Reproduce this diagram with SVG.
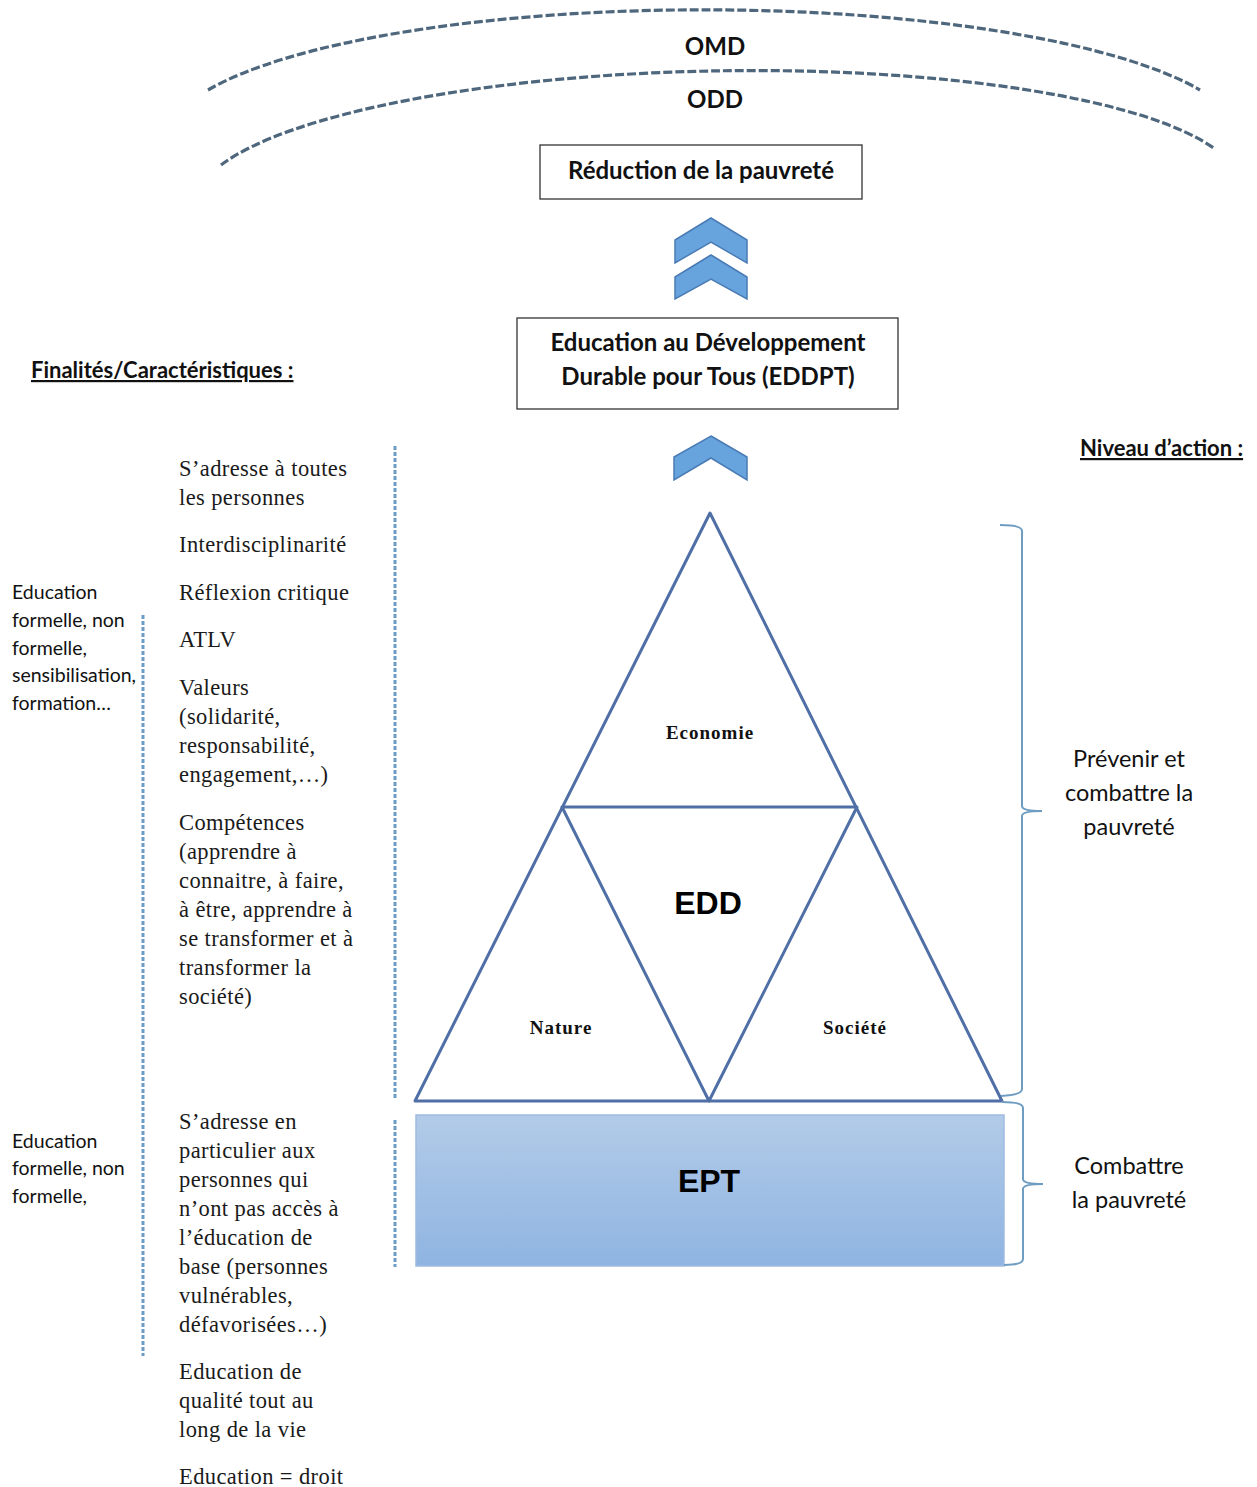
<svg xmlns="http://www.w3.org/2000/svg" width="1257" height="1487" viewBox="0 0 1257 1487">
<defs>
<style>
.cal{font-family:Lato,"Liberation Sans",sans-serif;fill:#111}
.calb{font-family:Lato,"Liberation Sans",sans-serif;font-weight:bold;fill:#111}
.ser{font-family:"Liberation Serif",serif;font-size:22.5px;letter-spacing:0.4px;fill:#1a1a1a}
.serb{font-family:"Liberation Serif",serif;font-weight:bold;font-size:19px;fill:#111;letter-spacing:1px}
.big{font-family:"Liberation Sans",sans-serif;font-weight:bold;font-size:32px;fill:#000}
.box{fill:#fff;stroke:#333;stroke-width:1.3}
.arc{fill:none;stroke:#4e677d;stroke-width:3.2;stroke-dasharray:9 3}
.vdash{fill:none;stroke:#6b9cc6;stroke-width:3;stroke-dasharray:4 2}
.tri{fill:none;stroke:#4f6fa6;stroke-width:3;stroke-linejoin:round}
.brace{fill:none;stroke:#6f9dc2;stroke-width:2}
.chev{fill:#67a4de;stroke:#4a7bb4;stroke-width:1.5}
</style>
<linearGradient id="eptg" x1="0" y1="0" x2="0" y2="1">
<stop offset="0" stop-color="#b2cbe8"/>
<stop offset="1" stop-color="#8fb4e1"/>
</linearGradient>
</defs>
<rect width="1257" height="1487" fill="#fff"/>

<g id="goals">
<path class="arc" d="M208,90 A537,130 0 0 1 1200,90"/>
<path class="arc" d="M221,165 A522,124 -1 0 1 1215,149"/>
<text class="calb" x="715" y="55" font-size="24" text-anchor="middle">OMD</text>
<text class="calb" x="715" y="108" font-size="24" text-anchor="middle">ODD</text>
</g>

<g id="reduction">
<rect class="box" x="540" y="145" width="322" height="54"/>
<text class="calb" x="701" y="179" font-size="24" text-anchor="middle">Réduction de la pauvreté</text>
</g>

<g id="eddpt">
<rect class="box" x="517" y="318" width="381" height="91"/>
<text class="calb" x="708" y="351" font-size="24" text-anchor="middle">Education au Développement</text>
<text class="calb" x="708" y="385" font-size="24" text-anchor="middle">Durable pour Tous (EDDPT)</text>
</g>

<g id="heading-finalites">
<text class="calb" x="31" y="378" font-size="22" text-decoration="underline">Finalités/Caractéristiques :</text>
</g>
<g id="heading-niveau">
<text class="calb" x="1080" y="456" font-size="22" text-decoration="underline">Niveau d’action :</text>
</g>

<g id="connectors">
<polygon class="chev" points="711,218 747,240 747,263 711,242 675,263 675,240"/>
<polygon class="chev" points="711,255 747,277 747,299 711,279 675,299 675,277"/>
<polygon class="chev" points="711,436 747,457 747,480 711,458 674,480 674,457"/>
</g>

<g id="edd-triangle">
<polygon class="tri" points="710,513 1002,1101 415,1101"/>
<polygon class="tri" points="562,807 857,807 709,1101"/>
<text class="serb" x="710" y="739" text-anchor="middle">Economie</text>
<text class="big" x="708" y="914" text-anchor="middle">EDD</text>
<text class="serb" x="561" y="1034" text-anchor="middle">Nature</text>
<text class="serb" x="855" y="1034" text-anchor="middle">Société</text>
</g>

<g id="ept">
<rect x="416" y="1115" width="588" height="151" fill="url(#eptg)" stroke="#9fbbe0" stroke-width="1.5"/>
<text class="big" x="709" y="1192" text-anchor="middle">EPT</text>
</g>

<g id="brace-edd">
<path class="brace" d="M1000,525 Q1022,525 1022,531 L1022,806 Q1022,811 1042,811 Q1022,811 1022,816 L1022,1089 Q1022,1095 1001,1096"/>
<text class="cal" x="1129" y="767" font-size="23.5" text-anchor="middle">Prévenir et</text>
<text class="cal" x="1129" y="801" font-size="23.5" text-anchor="middle">combattre la</text>
<text class="cal" x="1129" y="835" font-size="23.5" text-anchor="middle">pauvreté</text>
</g>

<g id="brace-ept">
<path class="brace" d="M1002,1102 Q1023,1102 1023,1108 L1023,1179 Q1023,1184 1043,1184 Q1023,1184 1023,1189 L1023,1259 Q1023,1265 1004,1265"/>
<text class="cal" x="1129" y="1174" font-size="23.5" text-anchor="middle">Combattre</text>
<text class="cal" x="1129" y="1208" font-size="23.5" text-anchor="middle">la pauvreté</text>
</g>

<g id="separators">
<line class="vdash" x1="395" y1="446" x2="395" y2="1099"/>
<line class="vdash" x1="395" y1="1120" x2="395" y2="1267"/>
<line class="vdash" x1="143" y1="615" x2="143" y2="1356"/>
</g>

<g id="edd-characteristics">
<text class="ser" x="179" y="476">S’adresse à toutes</text>
<text class="ser" x="179" y="505">les personnes</text>
<text class="ser" x="179" y="552">Interdisciplinarité</text>
<text class="ser" x="179" y="600">Réflexion critique</text>
<text class="ser" x="179" y="647">ATLV</text>
<text class="ser" x="179" y="695">Valeurs</text>
<text class="ser" x="179" y="724">(solidarité,</text>
<text class="ser" x="179" y="753">responsabilité,</text>
<text class="ser" x="179" y="782">engagement,…)</text>
<text class="ser" x="179" y="830">Compétences</text>
<text class="ser" x="179" y="859">(apprendre à</text>
<text class="ser" x="179" y="888">connaitre, à faire,</text>
<text class="ser" x="179" y="917">à être, apprendre à</text>
<text class="ser" x="179" y="946">se transformer et à</text>
<text class="ser" x="179" y="975">transformer la</text>
<text class="ser" x="179" y="1004">société)</text>
</g>

<g id="ept-characteristics">
<text class="ser" x="179" y="1129">S’adresse en</text>
<text class="ser" x="179" y="1158">particulier aux</text>
<text class="ser" x="179" y="1187">personnes qui</text>
<text class="ser" x="179" y="1216">n’ont pas accès à</text>
<text class="ser" x="179" y="1245">l’éducation de</text>
<text class="ser" x="179" y="1274">base (personnes</text>
<text class="ser" x="179" y="1303">vulnérables,</text>
<text class="ser" x="179" y="1332">défavorisées…)</text>
<text class="ser" x="179" y="1379">Education de</text>
<text class="ser" x="179" y="1408">qualité tout au</text>
<text class="ser" x="179" y="1437">long de la vie</text>
<text class="ser" x="179" y="1484">Education = droit</text>
</g>

<g id="edd-forms">
<text class="cal" x="12" y="599" font-size="19.5">Education</text>
<text class="cal" x="12" y="627" font-size="19.5">formelle, non</text>
<text class="cal" x="12" y="655" font-size="19.5">formelle,</text>
<text class="cal" x="12" y="682" font-size="19.5">sensibilisation,</text>
<text class="cal" x="12" y="710" font-size="19.5">formation…</text>
</g>

<g id="ept-forms">
<text class="cal" x="12" y="1148" font-size="19.5">Education</text>
<text class="cal" x="12" y="1175" font-size="19.5">formelle, non</text>
<text class="cal" x="12" y="1203" font-size="19.5">formelle,</text>
</g>
</svg>
